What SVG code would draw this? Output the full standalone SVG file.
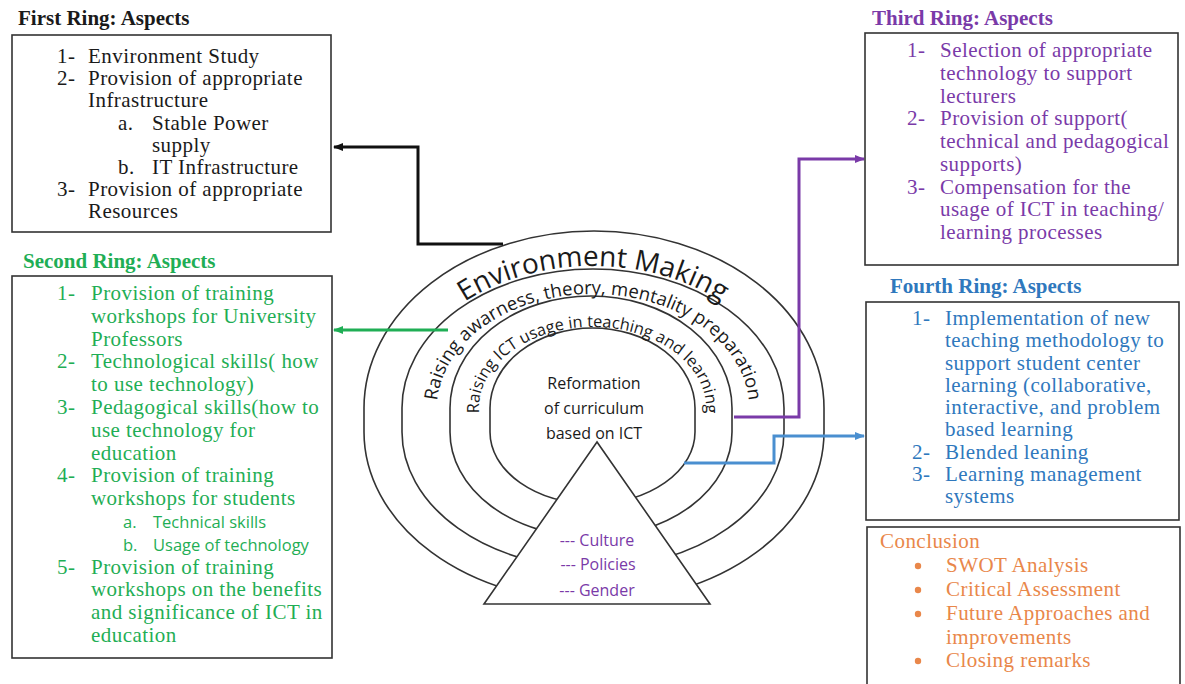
<svg xmlns="http://www.w3.org/2000/svg" width="1185" height="684" viewBox="0 0 1185 684">
<style>
.bg{fill:#fff}
.box{fill:#fff;stroke:#333;stroke-width:1.6}
.ring{fill:none;stroke:#333;stroke-width:1.6}
.t{font-family:"Liberation Serif","Times New Roman",serif;font-size:21px;letter-spacing:0.45px}
.ttl{font-family:"Liberation Serif","Times New Roman",serif;font-size:21px;font-weight:bold}
.sans{font-family:"Open Sans","Noto Sans",sans-serif}
.k{fill:#1a1a1a}
.g{fill:#1fae55}
.p{fill:#7a3aa8}
.b{fill:#2f78bd}
.o{fill:#e9874a}
.cn{stroke-width:3;fill:none}
</style>
<defs>
<marker id="mk" viewBox="0 0 10 8" refX="9" refY="4" markerWidth="10" markerHeight="8" markerUnits="userSpaceOnUse" orient="auto"><path d="M0,0 L10,4 L0,8 Z" fill="#111"/></marker>
<marker id="mg" viewBox="0 0 10 8" refX="9" refY="4" markerWidth="10" markerHeight="8" markerUnits="userSpaceOnUse" orient="auto"><path d="M0,0 L10,4 L0,8 Z" fill="#1fae55"/></marker>
<marker id="mp" viewBox="0 0 10 8" refX="9" refY="4" markerWidth="10" markerHeight="8" markerUnits="userSpaceOnUse" orient="auto"><path d="M0,0 L10,4 L0,8 Z" fill="#7a3aa8"/></marker>
<marker id="mb" viewBox="0 0 10 8" refX="9" refY="4" markerWidth="10" markerHeight="8" markerUnits="userSpaceOnUse" orient="auto"><path d="M0,0 L10,4 L0,8 Z" fill="#4a8fd0"/></marker>
<path id="pEnv" d="M400,408 A193,142 0 0 1 593,266 A193,142 0 0 1 786,408"/>
<path id="pAw" d="M437,470 L437,408 A156,114 0 0 1 593,294 A156,114 0 0 1 749,408 L749,470"/>
<path id="pIct" d="M479,470 L479,408 A113.5,81 0 0 1 592.5,327 A113.5,81 0 0 1 706,408 L706,470"/>
</defs>
<rect class="bg" x="0" y="0" width="1185" height="684"/>

<g id="rings">
<path class="ring" d="M364,432 L364,408 A230,177 0 0 1 594,231 A230,177 0 0 1 824,408 L824,432 A230,170 0 0 1 594,602 A230,170 0 0 1 364,432"/>
<path class="ring" d="M402,432 L402,408 A191,139 0 0 1 593,269 A191,139 0 0 1 784,408 L784,432 A191,136 0 0 1 593,568 A191,136 0 0 1 402,432"/>
<path class="ring" d="M450,432 L450,408 A141,112 0 0 1 591,296 A141,112 0 0 1 732,408 L732,432 A141,105 0 0 1 591,537 A141,105 0 0 1 450,432"/>
<path class="ring" d="M490,432 L490,408 A102.5,80 0 0 1 592.5,328 A102.5,80 0 0 1 695,408 L695,432 A102.5,71.5 0 0 1 592.5,503.5 A102.5,71.5 0 0 1 490,432"/>
<text class="sans k" font-size="28"><textPath href="#pEnv" startOffset="50%" text-anchor="middle">Environment Making</textPath></text>
<text class="sans k" font-size="18.5"><textPath href="#pAw" startOffset="50%" text-anchor="middle">Raising awarness, theory, mentality preparation</textPath></text>
<text class="sans k" font-size="16.3"><textPath href="#pIct" startOffset="50%" text-anchor="middle">Raising ICT usage in teaching and learning</textPath></text>
</g>

<g id="core">
<text class="sans k" font-size="16" text-anchor="middle"><tspan x="594" y="389">Reformation</tspan><tspan x="594" y="414">of curriculum</tspan><tspan x="594" y="439">based on ICT</tspan></text>
</g>

<g id="triangle">
<polygon points="597,442 484,604 710,604" fill="#fff" stroke="#333" stroke-width="1.6"/>
<text class="sans p" font-size="16" text-anchor="middle"><tspan x="597" y="546">--- Culture</tspan><tspan x="598" y="570">--- Policies</tspan><tspan x="597" y="596">--- Gender</tspan></text>
</g>

<g id="connectors">
<path class="cn" stroke="#111" d="M503,244 H418 V147 H334" marker-end="url(#mk)"/>
<path class="cn" stroke="#1fae55" stroke-width="2" d="M448,330 H334" marker-end="url(#mg)"/>
<path class="cn" stroke="#7a3aa8" stroke-width="2.5" d="M734,417 H799 V159 H864" marker-end="url(#mp)"/>
<path class="cn" stroke="#4a8fd0" stroke-width="2" d="M684,463 H774 V436 H864" marker-end="url(#mb)"/>
</g>

<g id="first-ring">
<text class="ttl k" x="18" y="25">First Ring: Aspects</text>
<rect class="box" x="12" y="35" width="319" height="197"/>
<g class="t k">
<text x="57" y="63">1-</text><text x="88" y="63">Environment Study</text>
<text x="57" y="85">2-</text><text x="88" y="85">Provision of appropriate</text>
<text x="88" y="107">Infrastructure</text>
<text x="118" y="129.5">a.</text><text x="152" y="129.5">Stable Power</text>
<text x="152" y="151.5">supply</text>
<text x="118" y="173.5">b.</text><text x="152" y="173.5">IT Infrastructure</text>
<text x="57" y="196">3-</text><text x="88" y="196">Provision of appropriate</text>
<text x="88" y="218">Resources</text>
</g>
</g>

<g id="second-ring">
<text class="ttl g" x="23" y="268">Second Ring: Aspects</text>
<rect class="box" x="12" y="276" width="320" height="382"/>
<g class="t g">
<text x="57" y="300">1-</text><text x="91" y="300">Provision of training</text>
<text x="91" y="322.8">workshops for University</text>
<text x="91" y="345.6">Professors</text>
<text x="57" y="368.4">2-</text><text x="91" y="368.4">Technological skills( how</text>
<text x="91" y="391.2">to use technology)</text>
<text x="57" y="414">3-</text><text x="91" y="414">Pedagogical skills(how to</text>
<text x="91" y="436.8">use technology for</text>
<text x="91" y="459.6">education</text>
<text x="57" y="482.4">4-</text><text x="91" y="482.4">Provision of training</text>
<text x="91" y="505.2">workshops for students</text>
<text x="57" y="573.6">5-</text><text x="91" y="573.6">Provision of training</text>
<text x="91" y="596.4">workshops on the benefits</text>
<text x="91" y="619.2">and significance of ICT in</text>
<text x="91" y="642">education</text>
</g>
<g class="sans g" font-size="16.5">
<text x="123" y="528">a.</text><text x="153" y="528">Technical skills</text>
<text x="123" y="550.8">b.</text><text x="153" y="550.8">Usage of technology</text>
</g>
</g>

<g id="third-ring">
<text class="ttl p" x="872" y="25">Third Ring: Aspects</text>
<rect class="box" x="865" y="33" width="313" height="232"/>
<g class="t p">
<text x="907" y="57">1-</text><text x="940" y="57">Selection of appropriate</text>
<text x="940" y="79.75">technology to support</text>
<text x="940" y="102.5">lecturers</text>
<text x="907" y="125.25">2-</text><text x="940" y="125.25">Provision of support(</text>
<text x="940" y="148">technical and pedagogical</text>
<text x="940" y="170.75">supports)</text>
<text x="907" y="193.5">3-</text><text x="940" y="193.5">Compensation for the</text>
<text x="940" y="216.25">usage of ICT in teaching/</text>
<text x="940" y="239">learning processes</text>
</g>
</g>

<g id="fourth-ring">
<text class="ttl b" x="890" y="293">Fourth Ring: Aspects</text>
<rect class="box" x="866" y="302" width="313" height="218"/>
<g class="t b">
<text x="912" y="325">1-</text><text x="945" y="325">Implementation of new</text>
<text x="945" y="347.25">teaching methodology to</text>
<text x="945" y="369.5">support student center</text>
<text x="945" y="391.75">learning (collaborative,</text>
<text x="945" y="414">interactive, and problem</text>
<text x="945" y="436.25">based learning</text>
<text x="912" y="458.5">2-</text><text x="945" y="458.5">Blended leaning</text>
<text x="912" y="480.75">3-</text><text x="945" y="480.75">Learning management</text>
<text x="945" y="503">systems</text>
</g>
</g>

<g id="conclusion">
<rect class="box" x="867" y="527" width="313" height="170"/>
<g class="t o">
<text x="880" y="548">Conclusion</text>
<text x="946" y="572">SWOT Analysis</text>
<text x="946" y="596">Critical Assessment</text>
<text x="946" y="620">Future Approaches and</text>
<text x="946" y="643.5">improvements</text>
<text x="946" y="667">Closing remarks</text>
</g>
<g class="o">
<circle cx="918" cy="566" r="3.2"/>
<circle cx="918" cy="590" r="3.2"/>
<circle cx="918" cy="614" r="3.2"/>
<circle cx="918" cy="661" r="3.2"/>
</g>
</g>
</svg>
